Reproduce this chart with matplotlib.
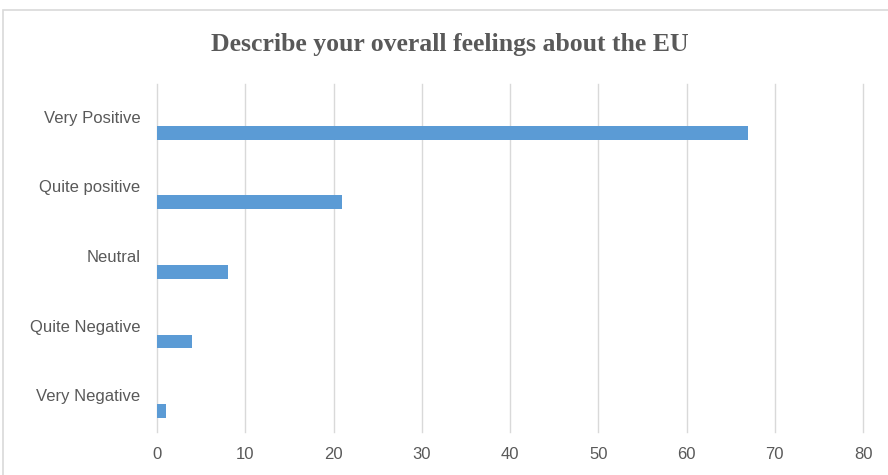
import matplotlib.pyplot as plt
from matplotlib.patches import Rectangle

categories = ["Very Negative", "Quite Negative", "Neutral", "Quite positive", "Very Positive"]
values = [1, 4, 8, 21, 67]
x_ticks = [0, 10, 20, 30, 40, 50, 60, 70, 80]

fig = plt.figure(figsize=(8.88, 4.75), dpi=100)

# outer chart border, right/bottom run off the image
fig.patches.append(Rectangle((3 / 888, -0.1), 1.2, 1 - 10 / 475 + 0.1,
                             transform=fig.transFigure, fill=False,
                             edgecolor="#d9d9d9", linewidth=1.2))

ax = fig.add_axes([157 / 888, 1 - 432 / 475, (863 - 157) / 888, (432 - 84) / 475])

pos = list(range(len(categories)))
ax.barh([p - 0.2 for p in pos], values, height=0.2, color="#5b9bd5", zorder=3)

ax.set_xlim(0, 80)
ax.set_ylim(-0.5, len(categories) - 0.5)
ax.set_xticks(x_ticks)
ax.set_yticks([p + 0.03 for p in pos])
ax.set_yticklabels(categories)

ax.grid(axis="x", color="#d9d9d9", linewidth=1, zorder=0)
for gl in ax.get_xgridlines():
    gl.set_clip_on(False)
for s in ax.spines.values():
    s.set_visible(False)
ax.tick_params(length=0, colors="#595959", labelsize=12)
ax.tick_params(axis="y", pad=12)
ax.tick_params(axis="x", pad=11)
for lbl in ax.get_xticklabels() + ax.get_yticklabels():
    lbl.set_fontfamily("Liberation Sans")

fig.text(450 / 888, 1 - 44 / 475, "Describe your overall feelings about the EU",
         ha="center", va="center", fontsize=18.5, fontweight="bold",
         family="Liberation Serif", color="#595959")

fig.savefig("out.png", dpi=100)
